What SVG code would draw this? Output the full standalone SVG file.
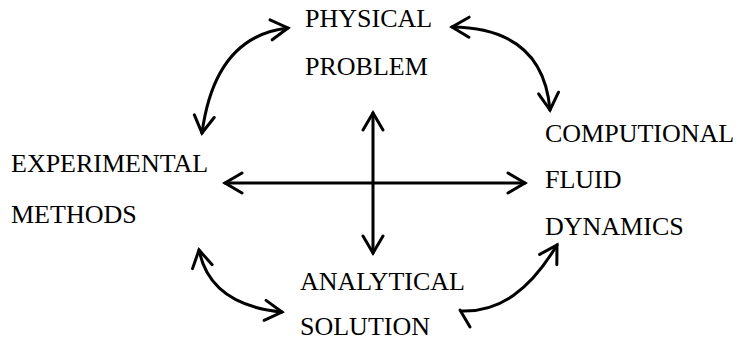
<svg xmlns="http://www.w3.org/2000/svg" width="742" height="341" viewBox="0 0 742 341">
<defs>
<style>
text{font-family:"Liberation Serif","Times New Roman",serif;font-size:26px;fill:#000}
.c{fill:none;stroke:#000;stroke-width:3;stroke-linecap:round;stroke-linejoin:round}
</style>
<marker id="ah" markerWidth="24" markerHeight="24" viewBox="-20 -12 24 24" refX="0" refY="0" orient="auto-start-reverse" markerUnits="userSpaceOnUse">
<path d="M-17,-10 L0,0 L-17,10" fill="none" stroke="#000" stroke-width="3" stroke-linecap="round" stroke-linejoin="miter"/>
</marker>
</defs>
<rect width="742" height="341" fill="#fff"/>
<g id="physical"><text x="305" y="27">PHYSICAL</text><text x="305" y="75">PROBLEM</text></g>
<g id="experimental"><text x="11" y="172">EXPERIMENTAL</text><text x="11" y="223">METHODS</text></g>
<g id="cfd"><text x="545" y="142">COMPUTIONAL</text><text x="545" y="188">FLUID</text><text x="545" y="235">DYNAMICS</text></g>
<g id="analytical"><text x="300" y="290">ANALYTICAL</text><text x="300" y="335">SOLUTION</text></g>
<g id="connectors">
<path class="c" d="M288,28 Q215,36 202,133" marker-start="url(#ah)" marker-end="url(#ah)"/>
<path class="c" d="M452,27 Q543,28 550,110" marker-start="url(#ah)" marker-end="url(#ah)"/>
<path class="c" d="M199,250 Q210,305 282,312" marker-start="url(#ah)" marker-end="url(#ah)"/>
<path class="c" d="M462,311 C500,312 530,290 557,245" marker-end="url(#ah)"/>
<path class="c" d="M460,310 L470,327"/>
<path class="c" d="M225,183 H525" marker-start="url(#ah)" marker-end="url(#ah)"/>
<path class="c" d="M373,113 V253" marker-start="url(#ah)" marker-end="url(#ah)"/>
</g>
</svg>
